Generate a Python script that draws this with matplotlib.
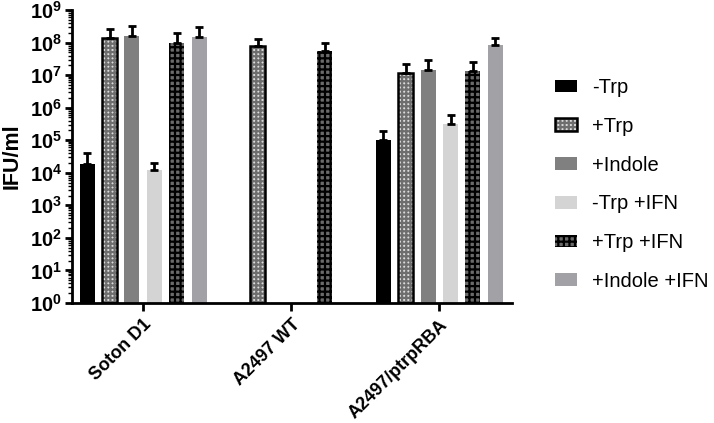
import numpy as np
import matplotlib
matplotlib.use("Agg")
import matplotlib.pyplot as plt
from matplotlib.ticker import LogLocator, FuncFormatter, NullFormatter
from matplotlib.legend_handler import HandlerTuple

plt.rcParams['font.family'] = ['Liberation Sans', 'DejaVu Sans']
plt.rcParams['mathtext.fontset'] = 'custom'
plt.rcParams['mathtext.rm'] = 'Liberation Sans:bold'
plt.rcParams['mathtext.bf'] = 'Liberation Sans:bold'
plt.rcParams['hatch.linewidth'] = 1.6

# data (IFU/ml), nan = not measured
strains = ['Soton D1', 'A2497 WT', 'A2497/ptrpRBA']
conditions = ['-Trp', '+Trp', '+Indole', '-Trp +IFN', '+Trp +IFN', '+Indole +IFN']
means = [
    [1.8e4, 1.4e8, 1.55e8, 1.25e4, 9.6e7, 1.45e8],
    [np.nan, 8.0e7, np.nan, np.nan, 5.4e7, np.nan],
    [1.0e5, 1.2e7, 1.4e7, 3.1e5, 1.35e7, 8.5e7],
]
upper = [
    [4.0e4, 2.7e8, 3.3e8, 2.0e4, 1.9e8, 3.0e8],
    [np.nan, 1.27e8, np.nan, np.nan, 1.0e8, np.nan],
    [1.9e5, 2.2e7, 3.0e7, 6.0e5, 2.6e7, 1.4e8],
]

means = np.array(means)
upper = np.array(upper)

styles = [
    dict(color='black', hatch=None, hcol='black'),
    dict(color='#dcdcdc', hatch='++++', hcol='#6e6e6e'),
    dict(color='#808080', hatch=None, hcol='#808080'),
    dict(color='#d4d4d4', hatch=None, hcol='#d4d4d4'),
    dict(color='#6a6a6a', hatch='+++', hcol='black'),
    dict(color='#a2a2a6', hatch=None, hcol='#a2a2a6'),
]
border = [None, 'black', None, None, None, None]

fig = plt.figure(figsize=(7.14, 4.23), dpi=100)
ax = fig.add_axes([72/714, 1 - 303/423, 440/714, 293/423])

x = np.arange(len(strains))
pitch = 0.151
width = 0.101
handles = []
for i, cond in enumerate(conditions):
    pos = x + (i - 2.5) * pitch
    st = styles[i]
    b = ax.bar(pos, means[:, i], width, bottom=1, color=st['color'],
               edgecolor=st['hcol'], linewidth=0, hatch=st['hatch'], zorder=2)
    h = b
    if border[i]:
        bb = ax.bar(pos, means[:, i], width, bottom=1, fill=False,
                    edgecolor=border[i], linewidth=1.8, zorder=3)
        h = (b, bb)
    handles.append(h)
    ok = ~np.isnan(means[:, i])
    ax.errorbar(pos[ok], means[ok, i],
                yerr=[np.zeros(ok.sum()), upper[ok, i] - means[ok, i]],
                fmt='none', ecolor='black', elinewidth=2, capsize=2.6,
                capthick=2, zorder=4)

ax.set_yscale('log')
ax.set_ylim(1, 1e9)
ax.set_xlim(-0.48, 2.49)
ax.yaxis.set_major_locator(LogLocator(base=10, numticks=20))
ax.yaxis.set_major_formatter(FuncFormatter(lambda v, p: r'$10^{%d}$' % round(np.log10(v))))
ax.yaxis.set_minor_locator(LogLocator(base=10, subs=np.arange(2, 10), numticks=20))
ax.yaxis.set_minor_formatter(NullFormatter())

for s in ['top', 'right']:
    ax.spines[s].set_visible(False)
for s in ['left', 'bottom']:
    ax.spines[s].set_linewidth(2)

ax.tick_params(axis='y', which='major', length=5, width=2, labelsize=14.5, pad=2)
ax.tick_params(axis='y', which='minor', length=3, width=1)
ax.tick_params(axis='x', length=6, width=2)
ax.set_xticks(x)
ax.set_xticklabels(strains, rotation=45, ha='right', rotation_mode='anchor',
                   fontsize=13, fontweight='bold')
ax.set_ylabel('IFU/ml', fontsize=15.5, fontweight='bold', labelpad=5)

ax.legend(handles, conditions, loc='center left',
          bbox_to_anchor=(555/714, 1 - 184.5/423), bbox_transform=fig.transFigure,
          borderpad=0, borderaxespad=0,
          frameon=False, fontsize=14.5, handlelength=1.1, handleheight=0.6,
          labelspacing=0.98, handletextpad=0.75,
          handler_map={tuple: HandlerTuple(ndivide=1)})

fig.savefig('out.png', dpi=100)
